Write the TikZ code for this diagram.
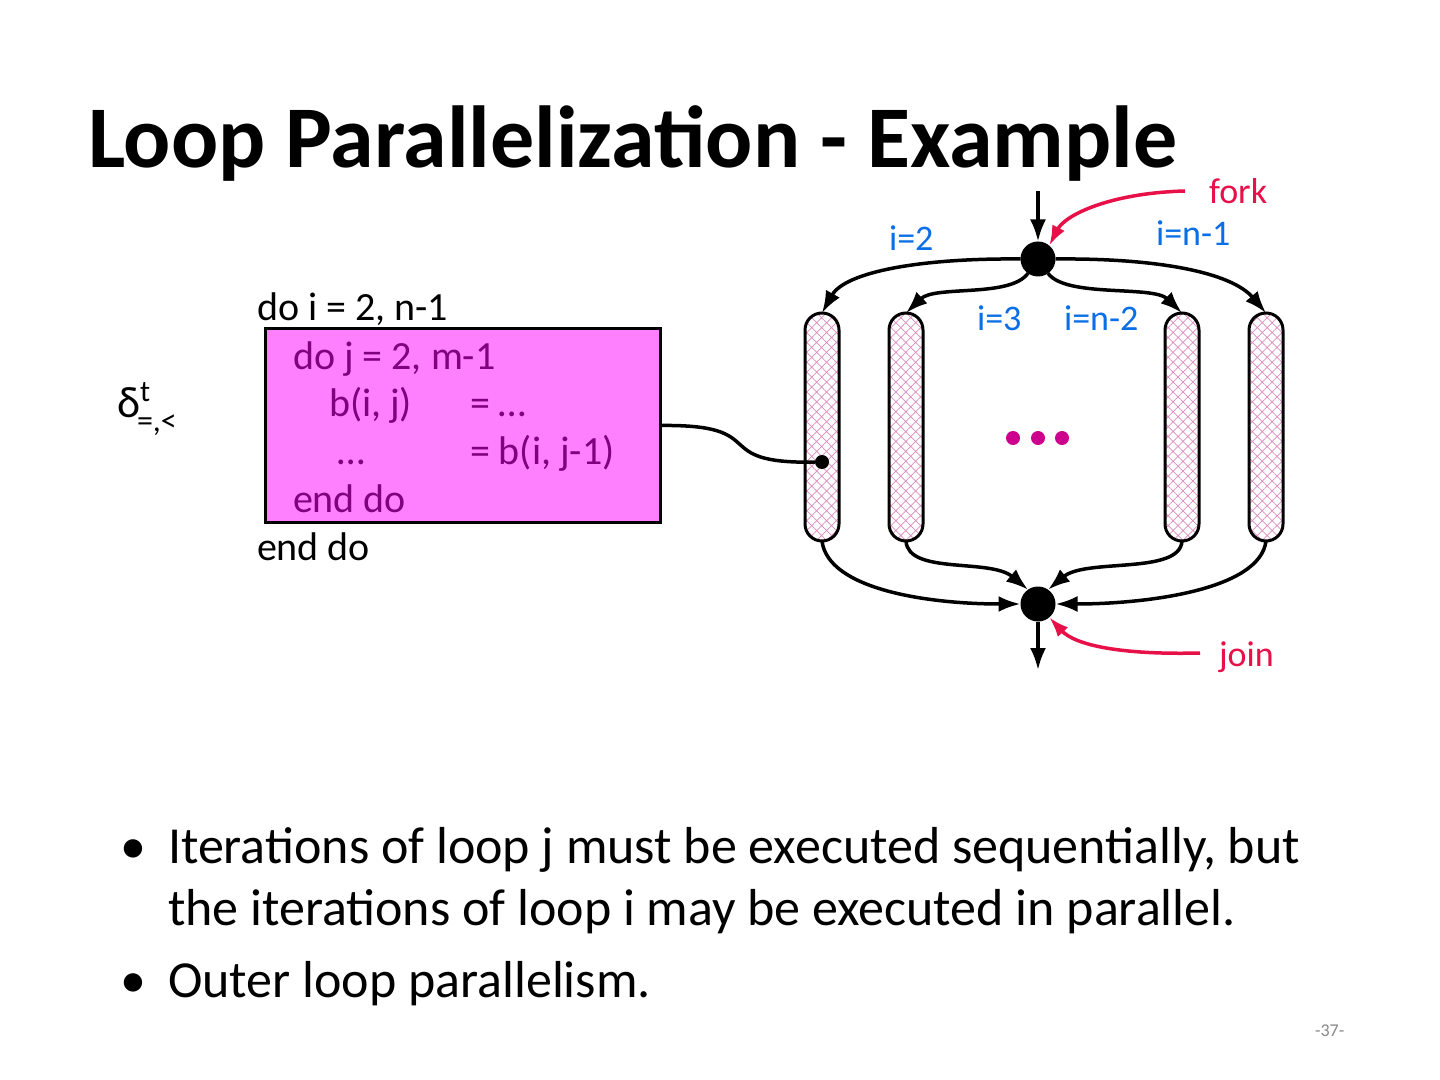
\documentclass[tikz,border=0pt]{standalone}
\usepackage{fontspec}
\setmainfont{Carlito}
\usetikzlibrary{arrows.meta,patterns.meta}
\definecolor{lpred}{RGB}{232,16,72}
\definecolor{lpblue}{RGB}{10,110,230}
\definecolor{lpmagenta}{RGB}{204,0,140}
\definecolor{lppurple}{RGB}{128,0,128}
\definecolor{lppink}{RGB}{255,128,255}
\definecolor{lphatch}{RGB}{220,140,190}
\definecolor{lpgray}{RGB}{137,137,137}

\begin{document}
\begin{tikzpicture}[x=0.5pt, y=-0.5pt,
  every node/.style={inner sep=0pt, outer sep=0pt},
  bar/.style={draw, line width=1.5pt, rounded corners=8.5pt, minimum width=17pt, minimum height=114pt,
    pattern={Hatch[angle=45,distance=3.5pt,line width=0.35pt]}, pattern color=lphatch},
  dot/.style={circle, fill=black, minimum size=17.5pt},
  arr/.style={-{Latex[length=11pt,width=8pt]}, line width=1.75pt},
  redarr/.style={-{Latex[length=10pt,width=7pt]}, line width=1.75pt, color=lpred},
  lbl/.style={anchor=base west, font=\fontsize{18}{22}\selectfont},
  code/.style={anchor=base west, font=\fontsize{20}{24}\selectfont},
  bul/.style={anchor=base west, font=\fontsize{26}{31}\selectfont}]
  \useasboundingbox[fill=white] (0,0) rectangle (1440,1080);

  \node[anchor=base west, font=\bfseries\fontsize{44}{53}\selectfont] (title) at (88,168) {Loop Parallelization - Example};

  % fork / join
  \node[dot] (fork) at (1038,259) {};
  \node[dot] (join) at (1038,604) {};
  \coordinate (in) at (1038,191);
  \coordinate (out) at (1038,670);
  \node[bar] (b1) at (822,427) {};
  \node[bar] (b2) at (906,427) {};
  \node[bar] (b3) at (1182,427) {};
  \node[bar] (b4) at (1266,427) {};

  \draw[arr] (in) -- (fork);
  \draw[arr] (join) -- (out);
  \draw[arr] (fork.west) .. controls (920,258) and (845,272) .. (b1.north);
  \draw[arr] (fork.235) .. controls (1010,298) and (935,285) .. (b2.north);
  \draw[arr] (fork.305) .. controls (1066,298) and (1153,285) .. (b3.north);
  \draw[arr] (fork.east) .. controls (1156,258) and (1231,272) .. (b4.north);
  \draw[arr] (b1.south) .. controls (828,590) and (930,604) .. (join.west);
  \draw[arr] (b2.south) .. controls (908,575) and (990,558) .. (join.125);
  \draw[arr] (b3.south) .. controls (1180,575) and (1086,558) .. (join.55);
  \draw[arr] (b4.south) .. controls (1260,590) and (1146,604) .. (join.east);

  \node[lbl, color=lpred] (forklbl) at (1209,204) {fork};
  \node[lbl, color=lpred] (joinlbl) at (1219,666) {join};
  \coordinate (forkfrom) at (1185,191);
  \coordinate (joinfrom) at (1200,653);
  \draw[redarr] (forkfrom) .. controls (1110,193) and (1065,215) .. (fork.50);
  \draw[redarr] (joinfrom) .. controls (1120,655) and (1075,645) .. (join.-50);

  \node[lbl, color=lpblue] (i2) at (889,251) {i=2};
  \node[lbl, color=lpblue] (in1) at (1156,246) {i=n-1};
  \node[lbl, color=lpblue] (i3) at (977,331) {i=3};
  \node[lbl, color=lpblue] (in2) at (1064,331) {i=n-2};

  \node[circle, fill=lpmagenta, minimum size=7pt] (d1) at (1013,438) {};
  \node[circle, fill=lpmagenta, minimum size=7pt] (d2) at (1038,438) {};
  \node[circle, fill=lpmagenta, minimum size=7pt] (d3) at (1062,438) {};

  % loop nest
  \node[draw, line width=1.5pt, fill=lppink, minimum width=197.5pt, minimum height=96.5pt] (box) at (462.5,425.5) {};
  \node[code] (outer) at (257,321) {do i = 2, n-1};
  \node[code, color=lppurple] (inner) at (293,370) {do j = 2, m-1};
  \node[code, color=lppurple] (wr) at (329,416) {b(i, j)};
  \node[code, color=lppurple] (wrr) at (470,416) {= …};
  \node[code, color=lppurple] (rd) at (337,465) {…};
  \node[code, color=lppurple] (rdr) at (470,465) {= b(i, j-1)};
  \node[code, color=lppurple] (innerend) at (293,512) {end do};
  \node[code] (outerend) at (257,560) {end do};

  \node[circle, fill=black, minimum size=7pt] (probe) at (822,462) {};
  \draw[line width=1.75pt] (box.east) .. controls (775,424) and (705,464) .. (probe);

  \node[anchor=base west, font=\fontsize{22}{26}\selectfont] (delta) at (117,418) {δ};
  \node[anchor=base west, font=\fontsize{15}{18}\selectfont] (deltasup) at (140,402) {t};
  \node[anchor=base west, font=\fontsize{16}{19}\selectfont] (deltasub) at (137,431) {=,<};

  % bullets
  \node[bul] (bull1) at (120,863) {•};
  \node[bul] (txt1) at (168,863) {Iterations of loop j must be executed sequentially, but};
  \node[bul] (txt1b) at (168,925) {the iterations of loop i may be executed in parallel.};
  \node[bul] (bull2) at (120,997) {•};
  \node[bul] (txt2) at (168,997) {Outer loop parallelism.};

  \node[anchor=base west, color=lpgray, font=\fontsize{9}{11}\selectfont] (page) at (1315,1036) {-37-};
\end{tikzpicture}
\end{document}
